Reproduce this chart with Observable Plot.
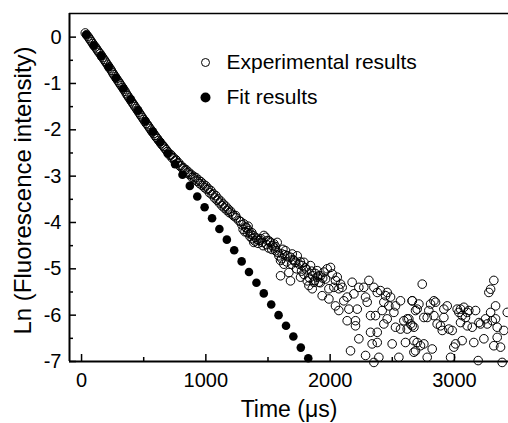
<!DOCTYPE html>
<html>
<head>
<meta charset="utf-8">
<script src="https://cdn.jsdelivr.net/npm/d3@7"></script>
<script src="https://cdn.jsdelivr.net/npm/@observablehq/plot@0.6"></script>
<style>
  html, body { margin: 0; padding: 0; background: #fff; }
</style>
</head>
<body>
<div id="chart"></div>
<script>
// Experimental results (time in µs, ln of fluorescence intensity)
const expTime = [
  30,40,50,60,70,80,90,100,110,120,130,140,150,160,170,180,190,200,210,220,230,240,250,260,270,280,290,300,
  310,320,330,340,350,360,370,380,390,400,410,420,430,440,450,460,470,480,490,500,510,520,530,540,550,560,570,580,590,600,
  610,620,630,640,650,660,670,680,690,700,710,720,730,740,750,760,770,780,790,800,810,820,830,840,850,860,870,880,890,900,
  910,920,930,940,950,960,970,980,990,1000,1010,1020,1030,1040,1050,1060,1070,1080,1090,1100,1110,1120,1130,1140,1150,1160,1170,1180,1190,1200,
  1212,1239,1266,1306,1319,1346,1360,1373,1386,1400,1427,1454,1467,1480,1494,1521,1547,1574,1561,1588,1614,1641,1655,1681,1695,1735,1722,1749,1775,1789,1842,1601,1628,1601,1681,1668,1762,1816,1829,1856,1869,1896,1909,
  1225,1245,1280,1290,1330,1340,1370,1410,1440,1510,1535,1560,1620,1700,1760,1800,1850,1880,
  1300,1315,1335,1355,1380,1395,1420,1445,1460,1490,1505,1530,1550,1580,1610,1635,1650,1690,1710,1730,1770,1790,1810,1835,1860,1875,1920,1940,
  1896,1923,1909,1950,1963,1976,2003,2017,1990,1936,1990,2030,2043,2057,2070,2084,2097,2043,2070,2110,2137,2151,2177,2191,2218,2231,2271,2285,2298,2312,2325,2352,2365,2379,2405,2419,2432,2446,2459,2472,2486,2513,2526,2566,
  2137,2204,2204,2231,2164,2325,2379,2338,2379,2285,2352,2392,2432,2459,2499,2526,2553,2566,2593,2606,2620,2633,2660,2674,2660,2687,
  2620,2647,2674,2660,2700,2714,2741,2754,2781,2794,2808,2835,2848,2835,2861,2888,2902,2915,2915,2942,2955,2982,2674,2700,2727,2754,2687,2821,2781,2969,2995,3009,3062,
  3022,3049,3036,3062,3076,3089,3103,3116,3049,3103,3143,3170,3156,3197,3210,3237,3250,3264,3277,3291,3317,3291,3304,3331,3331,3344,3344,3317,3371,3398,3425,3191,3384
];
const expLn = [
  0.09,0.05,0.02,-0.02,-0.06,-0.10,-0.14,-0.18,-0.21,-0.25,-0.29,-0.33,-0.36,-0.40,-0.44,-0.48,-0.52,-0.56,-0.60,-0.64,-0.68,-0.72,-0.77,-0.81,-0.85,-0.89,-0.93,-0.97,
  -1.01,-1.05,-1.09,-1.13,-1.17,-1.22,-1.26,-1.30,-1.34,-1.38,-1.42,-1.46,-1.50,-1.54,-1.58,-1.62,-1.66,-1.70,-1.74,-1.78,-1.82,-1.86,-1.89,-1.93,-1.97,-2.01,-2.05,-2.08,-2.12,-2.16,
  -2.19,-2.23,-2.26,-2.30,-2.33,-2.36,-2.40,-2.43,-2.47,-2.50,-2.55,-2.54,-2.61,-2.60,-2.67,-2.65,-2.72,-2.71,-2.78,-2.77,-2.83,-2.82,-2.88,-2.86,-2.93,-2.91,-2.97,-2.96,-3.03,-3.00,
  -3.06,-3.03,-3.11,-3.08,-3.16,-3.12,-3.20,-3.17,-3.25,-3.21,-3.29,-3.27,-3.36,-3.31,-3.40,-3.38,-3.47,-3.42,-3.52,-3.49,-3.58,-3.54,-3.64,-3.60,-3.69,-3.65,-3.74,-3.71,-3.79,-3.76,
  -3.82,-3.85,-3.96,-4.03,-4.10,-4.18,-4.25,-4.35,-4.43,-4.32,-4.39,-4.43,-4.28,-4.32,-4.39,-4.43,-4.46,-4.43,-4.61,-4.72,-4.68,-4.61,-4.72,-4.75,-4.68,-4.72,-4.86,-4.90,-4.93,-4.86,-4.93,-4.82,-4.90,-5.15,-5.26,-5.08,-5.18,-5.26,-5.36,-5.43,-5.29,-5.18,-5.15,
  -3.86,-3.90,-3.98,-4.05,-4.12,-4.08,-4.22,-4.36,-4.38,-4.40,-4.50,-4.52,-4.58,-4.80,-4.85,-4.98,-5.05,-5.10,
  -4.15,-4.20,-4.22,-4.30,-4.28,-4.40,-4.45,-4.35,-4.50,-4.48,-4.55,-4.58,-4.55,-4.65,-4.78,-4.70,-4.85,-4.90,-4.82,-5.00,-5.05,-5.12,-5.02,-5.20,-5.15,-5.25,-5.30,-5.20,
  -5.04,-5.15,-5.29,-5.07,-5.22,-5.00,-4.97,-5.11,-5.43,-5.58,-5.65,-5.40,-5.25,-5.18,-5.43,-5.33,-5.40,-5.80,-5.90,-5.69,-5.61,-5.87,-5.29,-5.54,-5.87,-5.40,-5.40,-5.61,-5.72,-5.25,-6.01,-5.40,-6.01,-5.51,-5.47,-5.90,-5.72,-5.58,-5.51,-5.80,-5.61,-5.94,-5.80,-5.69,
  -6.12,-6.12,-6.23,-6.51,-6.77,-6.37,-6.37,-6.62,-6.59,-6.87,-7.02,-6.91,-6.19,-6.08,-6.62,-6.26,-6.91,-6.30,-6.12,-6.59,-6.30,-6.08,-5.69,-6.80,-6.23,-5.90,
  -6.08,-6.19,-6.26,-5.69,-5.87,-5.76,-5.33,-6.05,-6.05,-5.90,-5.76,-5.69,-5.72,-6.01,-6.19,-6.23,-6.33,-6.05,-5.87,-5.80,-6.30,-6.33,-6.55,-6.59,-6.66,-6.62,-6.77,-6.73,-6.91,-6.91,-6.69,-6.62,-6.55,
  -5.87,-5.87,-5.94,-6.01,-5.83,-6.05,-5.94,-5.90,-6.16,-6.23,-6.26,-5.90,-6.59,-6.16,-6.19,-6.51,-6.08,-6.19,-5.51,-5.44,-5.25,-5.94,-6.12,-5.80,-6.08,-6.26,-6.48,-6.66,-6.69,-6.33,-5.94,-6.98,-7.02
];

// Fit results
const fitTime = [38,98,157,217,276,336,395,455,514,574,633,693,752,812,871,931,990,1050,1109,1169,1228,1288,1347,1407,1466,1526,1585,1645,1704,1764,1824];
const fitLn = [0.05,-0.18,-0.41,-0.65,-0.88,-1.11,-1.34,-1.58,-1.81,-2.04,-2.27,-2.51,-2.74,-2.97,-3.21,-3.44,-3.67,-3.91,-4.14,-4.37,-4.60,-4.84,-5.07,-5.30,-5.53,-5.77,-6.00,-6.23,-6.46,-6.70,-6.93];

// Axis settings
const xDomain = [-97, 3435];
const yDomain = [-7, 0.51];
const xMajor = [0, 1000, 2000, 3000];
const xMinor = [500, 1500, 2500];
const yMajor = [0, -1, -2, -3, -4, -5, -6, -7];
const yMinor = [-0.5, -1.5, -2.5, -3.5, -4.5, -5.5, -6.5];

const legendLabels = ["Experimental results", "Fit results"];
const xTitle = "Time (μs)";
const yTitle = "Ln (Fluorescence intensity)";

const expData = expTime.map((t, i) => ({t, v: expLn[i]}));
const fitData = fitTime.map((t, i) => ({t, v: fitLn[i]}));

const fmt = d => String(d);
const blank = () => "";

const chart = Plot.plot({
  width: 508,
  height: 423,
  marginTop: 13,
  marginBottom: 62,
  marginLeft: 69,
  marginRight: 0,
  style: {fontFamily: "'Liberation Sans', Arial, sans-serif", background: "white", color: "black"},
  x: {domain: xDomain},
  y: {domain: yDomain},
  marks: [
    // frame lines
    Plot.ruleY([yDomain[1]], {stroke: "black", strokeWidth: 1.5}),
    Plot.ruleY([yDomain[0]], {stroke: "black", strokeWidth: 2}),
    Plot.ruleX([xDomain[0]], {stroke: "black", strokeWidth: 2}),
    // inward ticks
    Plot.axisX(xMajor, {tickSize: -7, tickFormat: blank, strokeWidth: 1.5, label: null}),
    Plot.axisX(xMinor, {tickSize: -4, tickFormat: blank, strokeWidth: 1.5, label: null}),
    Plot.axisY(yMajor, {tickSize: -7, tickFormat: blank, strokeWidth: 1.5, label: null}),
    Plot.axisY(yMinor, {tickSize: -4, tickFormat: blank, strokeWidth: 1.5, label: null}),
    // tick labels
    Plot.axisX(xMajor, {tickSize: 0, tickPadding: 11, tickFormat: fmt, fontSize: 20, label: null}),
    Plot.axisY(yMajor, {tickSize: 0, tickPadding: 8, tickFormat: fmt, fontSize: 20, label: null}),
    // data
    Plot.dot(fitData, {x: "t", y: "v", r: 4.3, fill: "black", stroke: "none"}),
    Plot.dot(expData, {x: "t", y: "v", r: 4.3, fill: "none", stroke: "black", strokeWidth: 1}),
    // axis titles
    Plot.text([xTitle], {frameAnchor: "bottom", dy: 48, fontSize: 23, lineAnchor: "middle"}),
    Plot.text([yTitle], {frameAnchor: "left", dx: -46, dy: 3, rotate: -90, fontSize: 24, textAnchor: "middle", lineAnchor: "middle"}),
    // legend
    Plot.dot([legendLabels[0]], {frameAnchor: "top-left", dx: 136, dy: 49, r: 4, fill: "none", stroke: "black", strokeWidth: 1}),
    Plot.text([legendLabels[0]], {frameAnchor: "top-left", dx: 157, dy: 49, textAnchor: "start", lineAnchor: "middle", fontSize: 21}),
    Plot.dot([legendLabels[1]], {frameAnchor: "top-left", dx: 136, dy: 84, r: 5, fill: "black", stroke: "none"}),
    Plot.text([legendLabels[1]], {frameAnchor: "top-left", dx: 157, dy: 84, textAnchor: "start", lineAnchor: "middle", fontSize: 21})
  ]
});
document.getElementById("chart").appendChild(chart);
</script>
</body>
</html>
